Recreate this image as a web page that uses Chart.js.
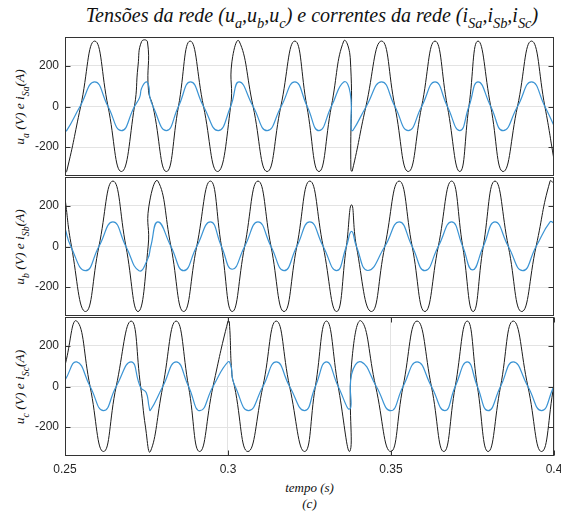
<!DOCTYPE html>
<html>
<head>
<meta charset="utf-8">
<script src="https://cdn.jsdelivr.net/npm/chart.js@4/dist/chart.umd.min.js"></script>
<style>
  html, body { margin: 0; padding: 0; background: #fff; overflow: hidden; }
  #wrap { position: relative; width: 561px; height: 513px; overflow: hidden; background: #fff; }
  #wrap canvas { position: absolute; left: 0; }
  .serif { position: absolute; white-space: nowrap; font-family: "Liberation Serif", "Times New Roman", serif;
           font-style: italic; color: #111; line-height: 1; }
  .serif sub { font-size: 0.72em; vertical-align: -0.45em; line-height: 0; }
  #title { left: 312px; top: 5px; transform: translateX(-50%); font-size: 20px; }
  .ylab { left: 20px; font-size: 13.5px; transform: translate(-50%, -50%) rotate(-90deg); }
  #xlab { left: 309.5px; top: 481px; transform: translateX(-50%); font-size: 13px; }
  #xsub { left: 309.5px; top: 497px; transform: translateX(-50%); font-size: 13px; }
</style>
</head>
<body>
<div id="wrap">
  <div id="title" class="serif">Tensões da rede (u<sub>a</sub>,u<sub>b</sub>,u<sub>c</sub>) e correntes da rede (i<sub>Sa</sub>,i<sub>Sb</sub>,i<sub>Sc</sub>)</div>
  <div class="serif ylab" style="top:106.5px">u<sub>a</sub> (V) e i<sub>Sa</sub>(A)</div>
  <div class="serif ylab" style="top:246.5px">u<sub>b</sub> (V) e i<sub>Sb</sub>(A)</div>
  <div class="serif ylab" style="top:386.5px">u<sub>c</sub> (V) e i<sub>Sc</sub>(A)</div>
  <div id="xlab" class="serif">tempo (s)</div>
  <div id="xsub" class="serif">(c)</div>
</div>
<script>
// ---- axis ticks ----
const xTicks = [0.25, 0.3, 0.35, 0.4];
const xTickLabels = ['0.25', '0.3', '0.35', '0.4'];
const yTicks = [-200, 0, 200];
const yTickLabels = ['-200', '0', '200'];

// ---- phase a: grid voltage u_a (V) and grid current i_Sa (A) ----
const uaT = [0.2500,0.2505,0.2548,0.2591,0.2632,0.2673,0.2713,0.2724,0.2735,0.2753,0.2756,0.2770,0.2811,0.2848,0.2884,0.2925,0.2968,0.3008,0.3012,0.3034,0.3077,0.3120,0.3162,0.3205,0.3242,0.3279,0.3317,0.3355,0.3375,0.3377,0.3381,0.3423,0.3471,0.3512,0.3553,0.3594,0.3635,0.3673,0.3711,0.3739,0.3767,0.3806,0.3844,0.3888,0.3931,0.3972,0.4000];
const uaV = [-316,-320,0,322,0,-320,0,200,320,318,80,0,-320,0,322,0,-320,0,220,322,0,-320,0,322,0,-320,0,322,240,-310,-318,0,322,0,-320,0,322,0,-320,0,322,0,-320,0,322,0,-262];
const iSaT = [0.2500,0.2505,0.2546,0.2591,0.2632,0.2673,0.2713,0.2729,0.2735,0.2749,0.2757,0.2760,0.2770,0.2811,0.2848,0.2885,0.2925,0.2970,0.3008,0.3034,0.3077,0.3120,0.3163,0.3205,0.3243,0.3279,0.3317,0.3355,0.3375,0.3378,0.3383,0.3424,0.3471,0.3512,0.3553,0.3594,0.3635,0.3673,0.3711,0.3739,0.3767,0.3806,0.3844,0.3888,0.3931,0.3972,0.4000];
const iSaV = [-117,-119,0,121,0,-119,0,45,90,121,100,48,0,-119,0,121,0,-119,0,121,0,-119,0,121,0,-119,0,121,66,-112,-118,0,121,0,-119,0,121,0,-119,0,121,0,-119,0,121,0,-95];

// ---- phase b ----
const ubT = [0.2500,0.2520,0.2563,0.2604,0.2647,0.2687,0.2724,0.2755,0.2757,0.2785,0.2825,0.2864,0.2904,0.2946,0.2980,0.3013,0.3051,0.3092,0.3132,0.3172,0.3211,0.3251,0.3292,0.3333,0.3363,0.3379,0.3394,0.3440,0.3481,0.3525,0.3565,0.3604,0.3645,0.3686,0.3720,0.3752,0.3783,0.3819,0.3860,0.3901,0.3945,0.3988,0.4000];
const ubV = [238,0,-320,0,322,0,-320,0,195,322,0,-320,0,322,0,-320,0,322,0,-320,0,322,0,-320,0,205,0,-320,0,322,0,-320,0,322,0,-320,0,322,0,-320,0,322,310];
const iSbT = [0.2500,0.2518,0.2563,0.2604,0.2647,0.2687,0.2727,0.2754,0.2763,0.2785,0.2825,0.2864,0.2904,0.2946,0.2980,0.3013,0.3051,0.3092,0.3132,0.3172,0.3211,0.3251,0.3292,0.3333,0.3363,0.3379,0.3394,0.3429,0.3481,0.3525,0.3565,0.3604,0.3645,0.3686,0.3720,0.3750,0.3783,0.3819,0.3860,0.3904,0.3945,0.3988,0.4000];
const iSbV = [90,0,-119,0,121,0,-119,-60,0,121,0,-119,0,121,0,-112,0,121,0,-119,0,121,0,-119,0,74,0,-118,0,121,0,-119,0,121,0,-115,0,121,0,-119,0,121,116];

// ---- phase c ----
const ucT = [0.2500,0.2536,0.2577,0.2618,0.2657,0.2703,0.2732,0.2747,0.2762,0.2800,0.2841,0.2879,0.2913,0.2954,0.3000,0.3004,0.3012,0.3020,0.3061,0.3107,0.3148,0.3189,0.3235,0.3268,0.3302,0.3338,0.3374,0.3379,0.3409,0.3453,0.3499,0.3537,0.3580,0.3624,0.3662,0.3697,0.3734,0.3765,0.3798,0.3836,0.3875,0.3920,0.3962,0.4000];
const ucV = [104,322,0,-320,0,322,0,-200,-320,0,322,0,-320,0,322,318,60,0,-320,0,322,0,-320,0,322,0,-318,110,322,0,-320,0,322,0,-320,0,322,0,-320,0,322,0,-320,8];
const iScT = [0.2500,0.2536,0.2577,0.2618,0.2657,0.2703,0.2732,0.2749,0.2758,0.2762,0.2800,0.2841,0.2879,0.2914,0.2954,0.3000,0.3010,0.3013,0.3022,0.3063,0.3107,0.3148,0.3189,0.3235,0.3268,0.3302,0.3338,0.3374,0.3379,0.3409,0.3455,0.3499,0.3537,0.3580,0.3624,0.3665,0.3697,0.3734,0.3765,0.3798,0.3836,0.3875,0.3920,0.3962,0.4000];
const iScV = [31,121,0,-119,0,121,-5,-30,-100,-117,0,121,0,-119,0,121,95,47,0,-119,0,121,0,-119,0,121,0,-110,60,121,0,-119,0,121,0,-119,0,121,0,-119,0,121,0,-119,2];

// ---- layout & style ----
const PLOT_LEFT = 65, PLOT_RIGHT = 554;
const PANEL_TOPS = [37, 177, 317];
const PANEL_H = 139;
const PAD = 3;
const CANVAS_W = 600;
const X_AXIS_H = 30;
const Y_RANGE = [-342, 342];
const VOLT_COLOR = '#1c1c1c';
const CURR_COLOR = '#3b94d4';
const GRID_COLOR = '#e3e3e3';
const FRAME_COLOR = '#333333';
const TICK_COLOR = '#262626';
const TICK_LEN = 5;
const SANS = '"Liberation Sans", Arial, Helvetica, sans-serif';

const toPoints = (ts, vs) => ts.map((t, i) => ({ x: t, y: vs[i] }));

// box around each axes with inward tick marks
const framePlugin = {
  id: 'frame',
  afterDatasetsDraw(chart) {
    const { ctx, chartArea: a, scales } = chart;
    const l = Math.round(a.left) + 0.5, r = Math.round(a.right) - 0.5;
    const t = Math.round(a.top) + 0.5, b = Math.round(a.bottom) - 0.5;
    ctx.save();
    ctx.strokeStyle = FRAME_COLOR;
    ctx.lineWidth = 1;
    ctx.strokeRect(l, t, r - l, b - t);
    ctx.beginPath();
    scales.y.ticks.forEach(tk => {
      const y = Math.round(scales.y.getPixelForValue(tk.value)) + 0.5;
      ctx.moveTo(l, y); ctx.lineTo(l + TICK_LEN, y);
      ctx.moveTo(r, y); ctx.lineTo(r - TICK_LEN, y);
    });
    if (scales.x.options.display) {
      scales.x.ticks.forEach(tk => {
        const x = Math.round(scales.x.getPixelForValue(tk.value)) + 0.5;
        ctx.moveTo(x, b); ctx.lineTo(x, b - TICK_LEN);
        ctx.moveTo(x, t); ctx.lineTo(x, t + TICK_LEN);
      });
    }
    ctx.stroke();
    ctx.restore();
  }
};

function makePanel(idx, vT, vV, iT, iV, showX) {
  const wrap = document.getElementById('wrap');
  const cv = document.createElement('canvas');
  const h = PAD + PANEL_H + (showX ? X_AXIS_H : PAD);
  cv.width = CANVAS_W; cv.height = h;
  cv.style.width = CANVAS_W + 'px'; cv.style.height = h + 'px';
  cv.style.top = (PANEL_TOPS[idx] - PAD) + 'px';
  wrap.appendChild(cv);

  new Chart(cv, {
    type: 'line',
    data: {
      datasets: [
        { data: toPoints(iT, iV), borderColor: CURR_COLOR, borderWidth: 1.2 },
        { data: toPoints(vT, vV), borderColor: VOLT_COLOR, borderWidth: 1 }
      ]
    },
    options: {
      responsive: false,
      animation: false,
      devicePixelRatio: 1,
      layout: { padding: { left: 0, right: CANVAS_W - PLOT_RIGHT, top: PAD, bottom: showX ? 0 : PAD } },
      elements: { point: { radius: 0 }, line: { tension: 0.5, fill: false } },
      plugins: { legend: { display: false }, tooltip: { enabled: false }, title: { display: false } },
      scales: {
        x: {
          type: 'linear', min: xTicks[0], max: xTicks[xTicks.length - 1],
          display: showX,
          afterBuildTicks: s => { s.ticks = xTicks.map(v => ({ value: v })); },
          afterFit: s => {
            s.height = showX ? X_AXIS_H : 0;
            s.paddingLeft = 0; s.paddingRight = 0;
          },
          grid: { color: GRID_COLOR, drawTicks: false },
          border: { display: false },
          ticks: { padding: 6, color: TICK_COLOR, maxRotation: 0, autoSkip: false,
                   font: { family: SANS, size: 12 }, callback: (v, i) => xTickLabels[i] }
        },
        y: {
          type: 'linear', min: Y_RANGE[0], max: Y_RANGE[1],
          afterBuildTicks: s => { s.ticks = yTicks.map(v => ({ value: v })); },
          afterFit: s => { s.width = PLOT_LEFT; s.paddingTop = 0; s.paddingBottom = 0; },
          grid: { color: GRID_COLOR, drawTicks: false },
          border: { display: false },
          ticks: { padding: 6, color: TICK_COLOR, autoSkip: false,
                   font: { family: SANS, size: 12 }, callback: (v, i) => yTickLabels[i] }
        }
      }
    },
    plugins: [framePlugin]
  });
}

makePanel(0, uaT, uaV, iSaT, iSaV, false);
makePanel(1, ubT, ubV, iSbT, iSbV, false);
makePanel(2, ucT, ucV, iScT, iScV, true);
</script>
</body>
</html>
